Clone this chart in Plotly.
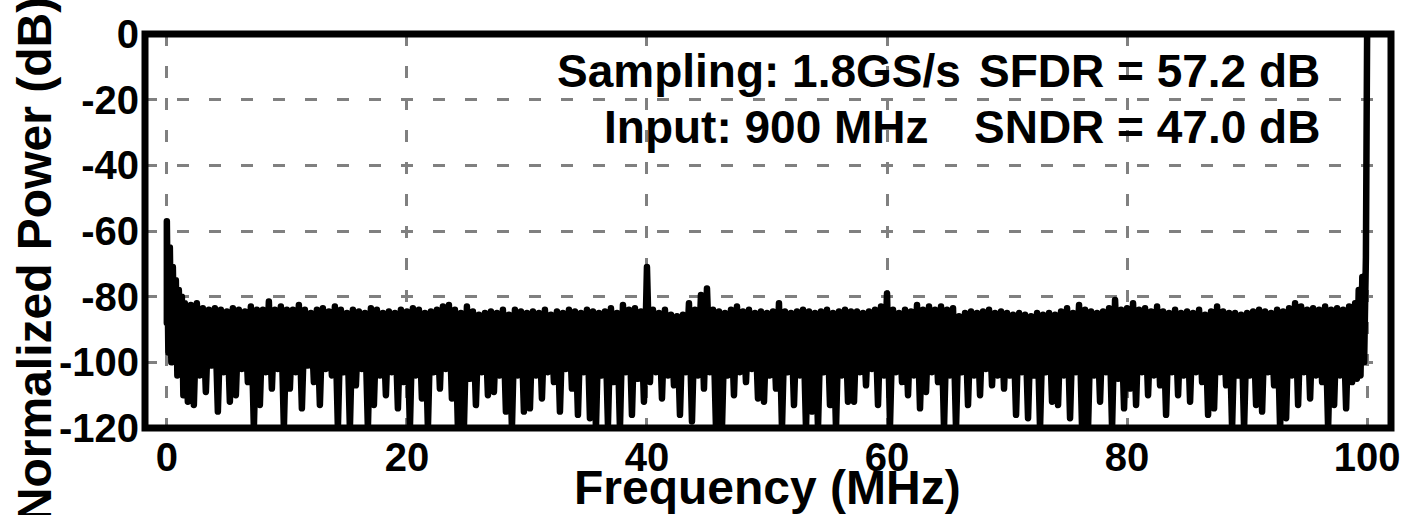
import numpy as np
import plotly.graph_objects as go

# ---- data ----
# DC skirt (MHz, dB)
dc_freq = [0.0, 0.0, 0.125, 0.25, 0.375, 0.5, 0.625, 0.75, 0.875, 1.0, 1.125, 1.25, 1.375]
dc_db = [-88, -57, -97, -65, -100, -71, -98, -75, -104, -78, -101, -80, -110]

# local maxima of the noise floor at 1.5, 2.0, ... 98.5 MHz
peak_db = [
    -82, -82.5, -82, -83.5, -84, -83.5, -84, -84.5, -83.5, -84, -84.5, -83, -84, -84, -81.5, -84, -83, -84,
    -84, -82.5, -84, -85, -84, -83.5, -84.5, -83, -84, -85, -84, -84.5, -85, -83.5, -84, -85, -84.5, -85, -84, -84.5,
    -83.5, -84, -85, -84.5, -84, -83, -82.5, -84, -85, -83, -84.5, -85.5, -85, -84.5, -85, -84, -85.5, -84, -84.5, -85,
    -84.5, -85, -84, -85.5, -84.5, -85, -84, -84.5, -85, -84, -84.5, -85, -84.5, -83.5, -85, -82.5, -84, -83.5, -84.5, -71,
    -84, -85, -84, -85.5, -86, -85.5, -82, -84, -79.5, -77.5, -84, -84.5, -85, -84, -83, -84.5, -84, -85, -84.5, -85,
    -84.5, -82, -84.5, -85, -84.5, -84, -84.5, -85, -84.5, -84, -85, -84.5, -84, -84.5, -84.5, -85, -84.5, -84, -83, -79,
    -84, -85, -84, -84.5, -82.5, -84, -83, -84, -83, -84, -83.5, -86, -85, -84.5, -85, -84.5, -84, -85, -84.5, -85,
    -85.5, -85, -85.5, -86, -85, -85.5, -85, -85.5, -84.5, -83.5, -85, -82.5, -84, -84.5, -85, -84.5, -83.5, -81, -84, -83.5,
    -82, -84, -83.5, -84.5, -83, -84.5, -85, -84, -85, -84.5, -85, -84, -85.5, -84.5, -83, -84.5, -85, -85, -85.5, -85,
    -84.5, -84, -84.5, -85, -84, -84.5, -83.5, -82, -83, -84, -83.5, -84, -83, -84, -83.5, -84, -83,
]

# local minima of the noise floor at 1.75, 2.25, ... 98.75 MHz
trough_db = [
    -112, -113, -104, -109, -101, -115, -103, -112, -110, -102, -106, -120, -113, -103, -108, -102, -120,
    -108, -103, -114, -101, -106, -113, -102, -104, -120, -103, -120, -107, -102, -120, -113, -104, -110, -103, -114, -106,
    -120, -104, -111, -120, -103, -108, -102, -111, -120, -120, -105, -113, -103, -110, -109, -104, -115, -120, -104, -115,
    -114, -104, -111, -103, -106, -115, -102, -108, -116, -103, -117, -120, -104, -119, -106, -120, -103, -116, -105, -112,
    -106, -103, -111, -104, -107, -116, -103, -118, -104, -108, -103, -120, -120, -104, -110, -103, -106, -102, -111, -112,
    -104, -108, -120, -103, -113, -104, -120, -115, -120, -103, -113, -120, -104, -112, -112, -103, -107, -102, -113, -104,
    -119, -103, -106, -110, -104, -114, -109, -103, -106, -120, -104, -120, -103, -113, -104, -110, -102, -107, -104, -108,
    -104, -116, -103, -117, -104, -120, -103, -112, -113, -104, -117, -103, -120, -120, -104, -112, -103, -120, -105, -114,
    -108, -113, -103, -110, -104, -107, -116, -103, -110, -104, -112, -103, -106, -116, -114, -103, -107, -120, -104, -120,
    -104, -113, -115, -103, -107, -120, -117, -104, -113, -103, -111, -104, -106, -120, -113, -104, -114, -106,
]

# skirt of the full-scale tone at 100 MHz
fund_freq = [99.0, 99.15, 99.3, 99.45, 99.6, 99.75, 99.9, 100.0]
fund_db = [-82, -105, -78, -104, -74, -100, -68, 0]

x_ticks = [0, 20, 40, 60, 80, 100]
y_ticks = [-120, -100, -80, -60, -40, -20, 0]

# ---- assemble trace ----
peak_freq = 1.5 + 0.5 * np.arange(len(peak_db))
trough_freq = peak_freq + 0.25
mid_f = np.empty(2 * len(peak_db))
mid_v = np.empty(2 * len(peak_db))
mid_f[0::2] = peak_freq
mid_f[1::2] = trough_freq
mid_v[0::2] = peak_db
mid_v[1::2] = trough_db
freq = np.concatenate([dc_freq, mid_f, fund_freq])
power = np.concatenate([dc_db, mid_v, fund_db])

FONT = "Liberation Sans, Arial, sans-serif"

fig = go.Figure()
fig.add_trace(go.Scatter(x=freq, y=power, mode="lines",
                         line=dict(color="black", width=6.5), hoverinfo="skip"))

W, H = 1412, 515
L, R, T, B = 145, 1400, 26, 428


def px(xp):
    return (xp - L) / (R - L)


def py(yp):
    return (B - yp) / (B - T)


fig.update_layout(
    width=W, height=H,
    margin=dict(l=L, r=W - R, t=T, b=H - B, pad=0),
    paper_bgcolor="white", plot_bgcolor="white",
    showlegend=False,
    xaxis=dict(range=[-1.82, 101.99], tickvals=x_ticks, ticktext=[str(v) for v in x_ticks],
               showgrid=True, gridcolor="#808080", gridwidth=3, griddash="12px,20px",
               zeroline=False, showline=False, ticks="", ticklabelstandoff=2,
               tickfont=dict(family=FONT, size=40, color="black", weight="bold")),
    yaxis=dict(range=[-120, 0], tickvals=y_ticks, ticktext=[str(v) for v in y_ticks],
               showgrid=True, gridcolor="#808080", gridwidth=3, griddash="12px,20px",
               zeroline=False, showline=False, ticks="", ticklabelstandoff=5,
               tickfont=dict(family=FONT, size=40, color="black", weight="bold")),
    shapes=[dict(type="rect", xref="paper", yref="paper", x0=0, x1=1, y0=0, y1=1,
                 line=dict(color="black", width=7), layer="above")],
)

ann_font = dict(family=FONT, size=46, color="black", weight="bold")
title_font = dict(family=FONT, size=48, color="black", weight="bold")
fig.add_annotation(text="Sampling: 1.8GS/s", xref="paper", yref="paper", x=px(763), y=py(64),
                   xanchor="center", yanchor="middle", showarrow=False, font=ann_font)
fig.add_annotation(text="Input: 900 MHz", xref="paper", yref="paper", x=px(771), y=py(121),
                   xanchor="center", yanchor="middle", showarrow=False, font=ann_font)
fig.add_annotation(text="SFDR = 57.2 dB", xref="paper", yref="paper", x=px(1330), y=py(64),
                   xanchor="right", yanchor="middle", showarrow=False, font=ann_font)
fig.add_annotation(text="SNDR = 47.0 dB", xref="paper", yref="paper", x=px(1330), y=py(121),
                   xanchor="right", yanchor="middle", showarrow=False, font=ann_font)
fig.add_annotation(text="Frequency (MHz)", xref="paper", yref="paper", x=px(772), y=py(489),
                   xanchor="center", yanchor="middle", showarrow=False, font=title_font)
fig.add_annotation(text="Normalized Power (dB)", xref="paper", yref="paper", x=px(34), y=py(256),
                   xanchor="center", yanchor="middle", textangle=-90, showarrow=False, font=title_font)

fig.write_html("out.html", post_script=(
    "document.querySelectorAll('.scatterlayer path.js-line')"
    ".forEach(function(p){p.style.strokeLinejoin='round';p.style.strokeLinecap='round';});"))
